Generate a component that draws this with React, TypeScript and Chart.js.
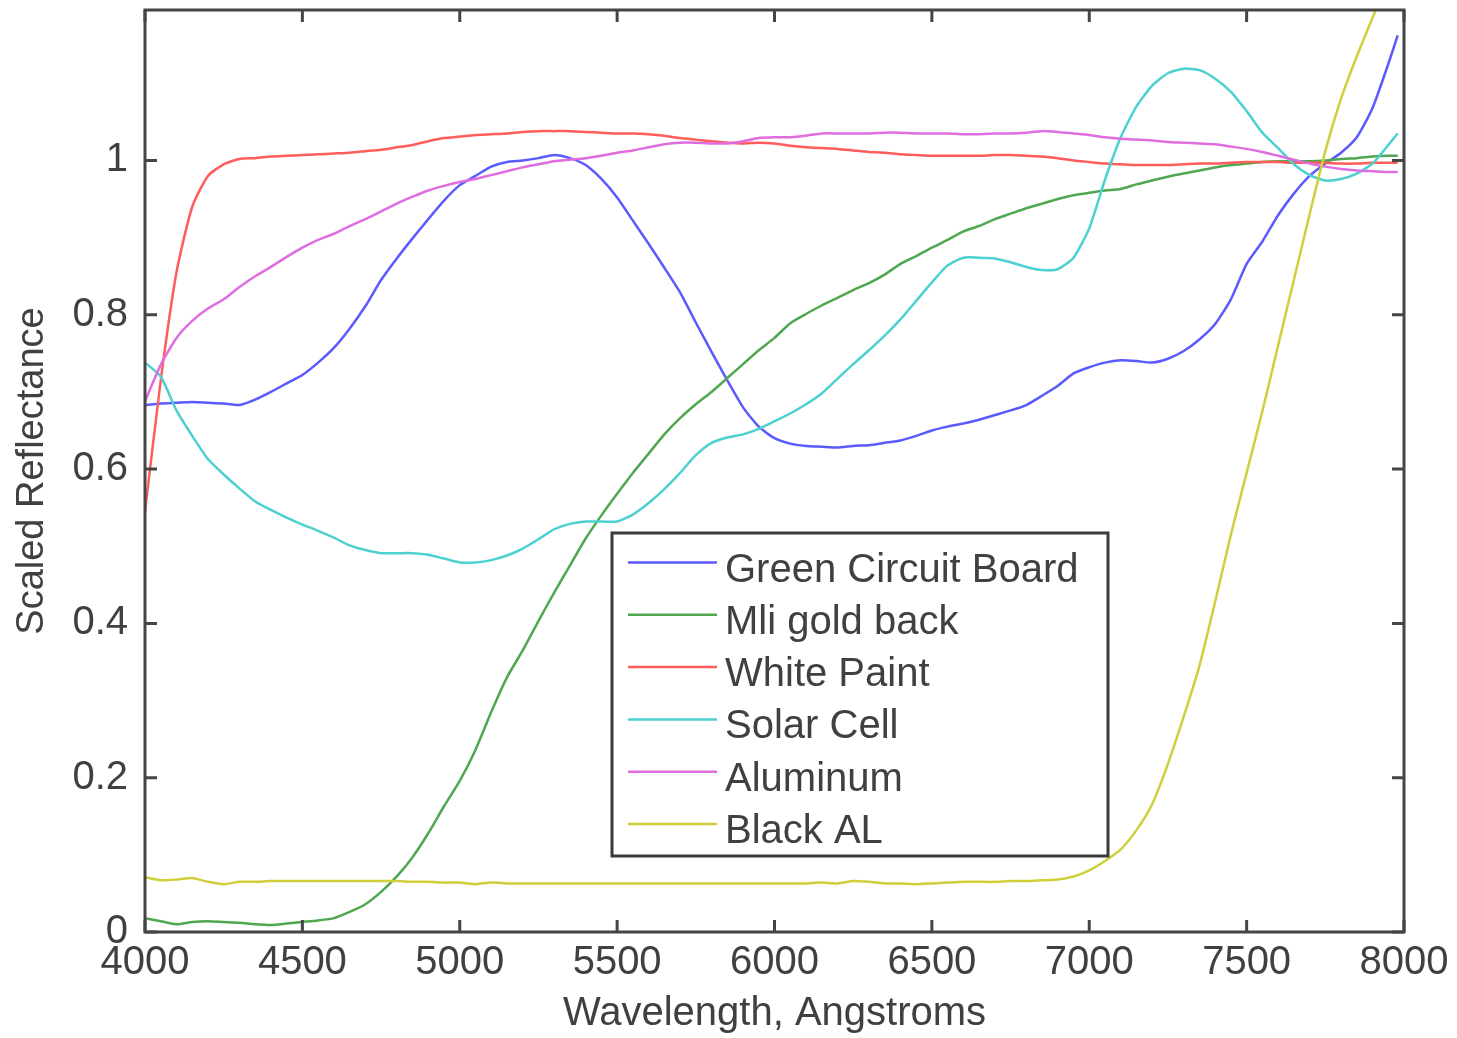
import React, { useEffect, useRef } from "react";
import { Chart, registerables } from "chart.js";

Chart.register(...registerables);

// ---------------- data ----------------
const wavelengths = [
  4000, 4050, 4100, 4150, 4200, 4250, 4300, 4350, 4400, 4450,
  4500, 4550, 4600, 4650, 4700, 4750, 4800, 4850, 4900, 4950,
  5000, 5050, 5100, 5150, 5200, 5250, 5300, 5350, 5400, 5450,
  5500, 5550, 5600, 5650, 5700, 5750, 5800, 5850, 5900, 5950,
  6000, 6050, 6100, 6150, 6200, 6250, 6300, 6350, 6400, 6450,
  6500, 6550, 6600, 6650, 6700, 6750, 6800, 6850, 6900, 6950,
  7000, 7050, 7100, 7150, 7200, 7250, 7300, 7350, 7400, 7450,
  7500, 7550, 7600, 7650, 7700, 7750, 7800, 7850, 7900, 7950,
  7980,
];

const greenCircuitBoard = [
  0.683, 0.685, 0.686, 0.687, 0.686, 0.685, 0.683, 0.690, 0.700, 0.711,
  0.722, 0.738, 0.757, 0.782, 0.811, 0.845, 0.873, 0.899, 0.924, 0.948,
  0.968, 0.980, 0.992, 0.998, 1.000, 1.003, 1.007, 1.003, 0.994, 0.976,
  0.952, 0.922, 0.892, 0.861, 0.829, 0.790, 0.752, 0.715, 0.680, 0.655,
  0.640, 0.633, 0.630, 0.629, 0.628, 0.630, 0.631, 0.634, 0.637, 0.643,
  0.650, 0.655, 0.659, 0.664, 0.670, 0.676, 0.683, 0.695, 0.708, 0.724,
  0.732, 0.738, 0.741, 0.740, 0.738, 0.743, 0.753, 0.768, 0.788, 0.820,
  0.866, 0.895, 0.929, 0.957, 0.980, 0.996, 1.010, 1.030, 1.068, 1.125,
  1.162,
];

const mliGoldBack = [
  0.018, 0.014, 0.010, 0.013, 0.014, 0.013, 0.012, 0.010, 0.009, 0.011,
  0.013, 0.015, 0.018, 0.026, 0.036, 0.052, 0.072, 0.097, 0.128, 0.163,
  0.196, 0.236, 0.285, 0.330, 0.365, 0.403, 0.440, 0.475, 0.510, 0.540,
  0.568, 0.595, 0.620, 0.645, 0.666, 0.684, 0.700, 0.718, 0.736, 0.754,
  0.770, 0.789, 0.801, 0.812, 0.822, 0.832, 0.841, 0.852, 0.866, 0.876,
  0.887, 0.897, 0.908, 0.915, 0.924, 0.931, 0.938, 0.944, 0.950, 0.955,
  0.958, 0.961, 0.963, 0.969, 0.974, 0.979, 0.983, 0.987, 0.991, 0.994,
  0.996, 0.998, 0.999, 0.999, 0.999, 1.000, 1.002, 1.003, 1.005, 1.006,
  1.006,
];

const whitePaint = [
  0.545, 0.715, 0.855, 0.940, 0.980, 0.995, 1.002, 1.003, 1.005, 1.006,
  1.007, 1.008, 1.009, 1.010, 1.012, 1.014, 1.017, 1.020, 1.025, 1.029,
  1.031, 1.033, 1.034, 1.035, 1.037, 1.038, 1.038, 1.038, 1.037, 1.036,
  1.035, 1.035, 1.034, 1.032, 1.029, 1.027, 1.025, 1.023, 1.022, 1.023,
  1.022, 1.019, 1.017, 1.016, 1.015, 1.013, 1.011, 1.010, 1.008, 1.007,
  1.006, 1.006, 1.006, 1.006, 1.007, 1.007, 1.006, 1.005, 1.003, 1.000,
  0.998, 0.996, 0.995, 0.994, 0.994, 0.994, 0.995, 0.996, 0.996, 0.997,
  0.998, 0.998, 0.998, 0.997, 0.997, 0.997, 0.996, 0.996, 0.997, 0.997,
  0.997,
];

const solarCell = [
  0.738, 0.720, 0.676, 0.643, 0.613, 0.593, 0.575, 0.558, 0.547, 0.537,
  0.528, 0.520, 0.511, 0.501, 0.495, 0.491, 0.491, 0.491, 0.489, 0.484,
  0.479, 0.479, 0.482, 0.488, 0.497, 0.509, 0.522, 0.529, 0.532, 0.532,
  0.532, 0.541, 0.556, 0.574, 0.595, 0.618, 0.634, 0.641, 0.645, 0.652,
  0.662, 0.672, 0.684, 0.698, 0.717, 0.736, 0.754, 0.773, 0.794, 0.818,
  0.842, 0.864, 0.874, 0.874, 0.873, 0.868, 0.862, 0.858, 0.859, 0.874,
  0.912, 0.975, 1.030, 1.070, 1.097, 1.113, 1.119, 1.117, 1.106, 1.089,
  1.064, 1.036, 1.016, 0.995, 0.981, 0.974, 0.976, 0.983, 0.996, 1.020,
  1.035,
];

const aluminum = [
  0.688, 0.735, 0.770, 0.792, 0.808, 0.820, 0.836, 0.850, 0.862, 0.875,
  0.887, 0.897, 0.905, 0.915, 0.924, 0.934, 0.944, 0.953, 0.961, 0.967,
  0.972, 0.976, 0.981, 0.986, 0.991, 0.995, 0.999, 1.001, 1.003, 1.006,
  1.010, 1.013, 1.017, 1.021, 1.023, 1.023, 1.022, 1.022, 1.025, 1.029,
  1.030, 1.030, 1.032, 1.035, 1.035, 1.035, 1.035, 1.036, 1.036, 1.035,
  1.035, 1.035, 1.034, 1.034, 1.035, 1.035, 1.036, 1.038, 1.037, 1.035,
  1.033, 1.030, 1.028, 1.027, 1.026, 1.024, 1.023, 1.022, 1.021, 1.018,
  1.015, 1.011, 1.006, 1.001, 0.996, 0.992, 0.989, 0.987, 0.986, 0.985,
  0.985,
];

const blackAL = [
  0.071, 0.067, 0.068, 0.070, 0.065, 0.062, 0.065, 0.065, 0.066, 0.066,
  0.066, 0.066, 0.066, 0.066, 0.066, 0.066, 0.066, 0.065, 0.065, 0.064,
  0.064, 0.062, 0.064, 0.063, 0.063, 0.063, 0.063, 0.063, 0.063, 0.063,
  0.063, 0.063, 0.063, 0.063, 0.063, 0.063, 0.063, 0.063, 0.063, 0.063,
  0.063, 0.063, 0.063, 0.064, 0.063, 0.066, 0.065, 0.063, 0.063, 0.062,
  0.063, 0.064, 0.065, 0.065, 0.065, 0.066, 0.066, 0.067, 0.068, 0.072,
  0.080, 0.092, 0.107, 0.132, 0.166, 0.218, 0.279, 0.345, 0.428, 0.515,
  0.595, 0.675, 0.760, 0.845, 0.930, 1.012, 1.080, 1.135, 1.185, 1.235,
  1.265,
];

const seriesLabels = [
  "Green Circuit Board",
  "Mli gold back",
  "White Paint",
  "Solar Cell",
  "Aluminum",
  "Black AL",
];
const seriesValues = [greenCircuitBoard, mliGoldBack, whitePaint, solarCell, aluminum, blackAL];
const seriesColors = ["#5a5aff", "#4fa84f", "#ff5c5c", "#4dd0d0", "#df6ddf", "#cfcf3c"];

const xTicks = [4000, 4500, 5000, 5500, 6000, 6500, 7000, 7500, 8000];
const yTicks = [0, 0.2, 0.4, 0.6, 0.8, 1];
const xMin = 4000;
const xMax = 8000;
const yMin = 0;
const yMax = 1.195;
const xTitle = "Wavelength, Angstroms";
const yTitle = "Scaled Reflectance";

// ---------------- styles ----------------
const FONT = '"Liberation Sans", Arial, Helvetica, sans-serif';
const TEXT = "#404040";
const AXIS = "#454545";

const framePlugin = {
  id: "matlabFrame",
  afterDatasetsDraw(chart: any) {
    const { ctx, chartArea: a, scales } = chart;
    ctx.save();
    ctx.strokeStyle = AXIS;
    ctx.lineWidth = 3;
    ctx.strokeRect(a.left, a.top, a.right - a.left, a.bottom - a.top);
    const L = 12;
    ctx.beginPath();
    for (const v of xTicks) {
      const px = scales.x.getPixelForValue(v);
      ctx.moveTo(px, a.bottom);
      ctx.lineTo(px, a.bottom - L);
      ctx.moveTo(px, a.top);
      ctx.lineTo(px, a.top + L);
    }
    for (const v of yTicks) {
      const py = scales.y.getPixelForValue(v);
      ctx.moveTo(a.left, py);
      ctx.lineTo(a.left + L, py);
      ctx.moveTo(a.right, py);
      ctx.lineTo(a.right - L, py);
    }
    ctx.stroke();
    ctx.restore();
  },
};

const legendPlugin = {
  id: "boxLegend",
  afterDraw(chart: any) {
    const { ctx, chartArea: a } = chart;
    const left = a.left + 467;
    const top = a.top + 523;
    const w = 496;
    const h = 323;
    ctx.save();
    ctx.fillStyle = "#ffffff";
    ctx.fillRect(left, top, w, h);
    ctx.strokeStyle = "#3a3a3a";
    ctx.lineWidth = 3;
    ctx.strokeRect(left, top, w, h);
    ctx.font = `40px ${FONT}`;
    ctx.textAlign = "left";
    ctx.textBaseline = "alphabetic";
    chart.data.datasets.forEach((ds: any, i: number) => {
      const y = top + 29.5 + i * 52.3;
      ctx.strokeStyle = ds.borderColor;
      ctx.lineWidth = 2.5;
      ctx.beginPath();
      ctx.moveTo(left + 16, y);
      ctx.lineTo(left + 105, y);
      ctx.stroke();
      ctx.fillStyle = TEXT;
      ctx.fillText(ds.label, left + 113, y + 19);
    });
    ctx.restore();
  },
};

export default function App() {
  const canvasRef = useRef<HTMLCanvasElement | null>(null);

  useEffect(() => {
    if (!canvasRef.current) return;
    const datasets = seriesLabels.map((label, i) => ({
      label,
      data: wavelengths.map((x, j) => ({ x, y: seriesValues[i][j] })),
      borderColor: seriesColors[i],
      backgroundColor: seriesColors[i],
      borderWidth: 2.5,
      pointRadius: 0,
      fill: false,
      tension: 0.2,
      order: seriesLabels.length - i,
    }));

    const chart = new Chart(canvasRef.current, {
      type: "line",
      data: { datasets },
      plugins: [framePlugin, legendPlugin],
      options: {
        responsive: false,
        animation: false,
        layout: { padding: { left: 0, top: 10, right: 53, bottom: 0 } },
        plugins: {
          legend: { display: false },
          tooltip: { enabled: false },
        },
        scales: {
          x: {
            type: "linear",
            min: xMin,
            max: xMax,
            afterBuildTicks: (s: any) => {
              s.ticks = xTicks.map((v) => ({ value: v }));
            },
            afterFit: (s: any) => {
              s.height = 106;
              s.paddingLeft = 0;
              s.paddingRight = 0;
            },
            ticks: {
              callback: (v: any) => String(v),
              font: { family: FONT, size: 40 },
              color: TEXT,
              padding: 7,
              maxRotation: 0,
              autoSkip: false,
            },
            grid: { display: false, drawTicks: false },
            border: { display: false },
            title: {
              display: true,
              text: xTitle,
              font: { family: FONT, size: 40 },
              color: TEXT,
              padding: { top: 0, bottom: 0 },
            },
          },
          y: {
            type: "linear",
            min: yMin,
            max: yMax,
            afterBuildTicks: (s: any) => {
              s.ticks = yTicks.map((v) => ({ value: v }));
            },
            afterFit: (s: any) => {
              s.width = 145;
              s.paddingTop = 0;
              s.paddingBottom = 0;
            },
            ticks: {
              callback: (v: any) => String(v),
              font: { family: FONT, size: 40 },
              color: TEXT,
              padding: 17,
              autoSkip: false,
            },
            grid: { display: false, drawTicks: false },
            border: { display: false },
            title: {
              display: true,
              text: yTitle,
              font: { family: FONT, size: 38 },
              color: TEXT,
              padding: { top: 10, bottom: 0 },
            },
          },
        },
      },
    } as any);

    return () => {
      chart.destroy();
    };
  }, []);

  return (
    <div style={{ position: "absolute", left: 0, top: 0, width: 1457, height: 1038, background: "#ffffff" }}>
      <canvas ref={canvasRef} width={1457} height={1038} style={{ display: "block" }} />
    </div>
  );
}
